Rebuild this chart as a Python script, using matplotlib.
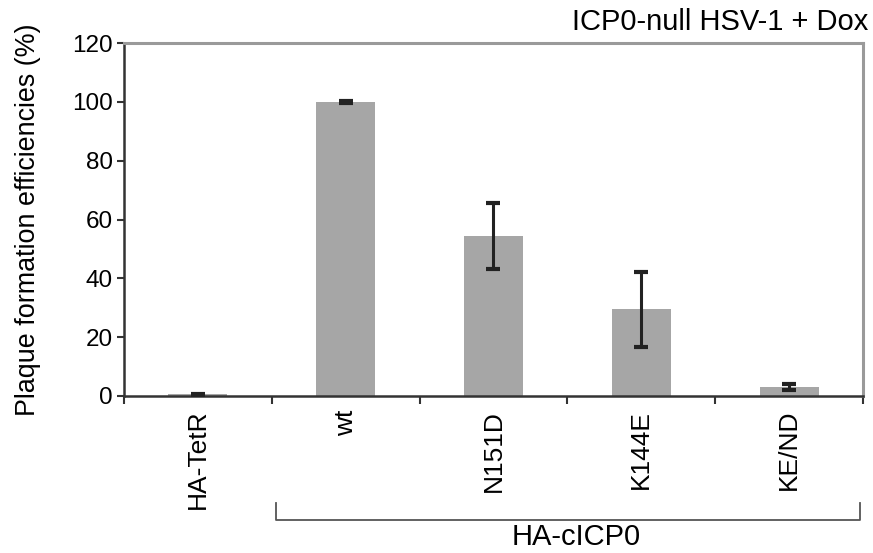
import matplotlib
matplotlib.use("Agg")
import matplotlib.pyplot as plt
import matplotlib.transforms as mtransforms
from matplotlib import font_manager
import numpy as np

categories = ["HA-TetR", "wt", "N151D", "K144E", "KE/ND"]
values = [0.5, 100.0, 54.5, 29.5, 3.0]
errors = [0.3, 0.4, 11.2, 12.8, 1.0]
yticks = [0, 20, 40, 60, 80, 100, 120]
group_label = "HA-cICP0"
title = "ICP0-null HSV-1 + Dox"
ylabel = "Plaque formation efficiencies (%)"

plt.rcParams['font.family'] = ['Liberation Sans', 'DejaVu Sans']

installed = {f.name for f in font_manager.fontManager.ttflist}
if "Liberation Sans Narrow" in installed:
    ylab_family, ylab_size = ["Liberation Sans Narrow", "DejaVu Sans"], 23.5
else:
    ylab_family, ylab_size = ["Liberation Sans", "DejaVu Sans"], 19.4

fig = plt.figure(figsize=(8.73, 5.53), dpi=100)
ax = fig.add_axes([0.142, 0.284, 0.8465, 0.638])

x = np.arange(len(categories))
ax.bar(x, values, width=0.4, color="#a6a6a6", zorder=2)
ax.errorbar(x, values, yerr=errors, fmt="none", ecolor="#222222",
            elinewidth=2.2, capsize=5, capthick=3, zorder=3)

ax.set_xlim(-0.5, len(categories) - 0.5)
ax.set_ylim(0, 120)
ax.set_yticks(yticks)
ax.set_yticklabels([str(t) for t in yticks], fontsize=17.5)
ax.set_xticks(x)
ax.set_xticklabels(categories, rotation=90, fontsize=19)
ax.set_xticks(np.arange(-0.5, len(categories), 1.0), minor=True)
ax.tick_params(axis="x", which="major", length=0, pad=10)
ax.tick_params(axis="x", which="minor", length=6, width=1.5, color="#333333", direction="out")
ax.tick_params(axis="y", length=5, width=1.5, color="#333333", direction="out", pad=3)

for side in ["left", "bottom"]:
    ax.spines[side].set_color("#333333")
    ax.spines[side].set_linewidth(1.8)
for side in ["top", "right"]:
    ax.spines[side].set_color("#9a9a9a")
    ax.spines[side].set_linewidth(2.2)

ax.set_ylabel(ylabel, fontsize=ylab_size, family=ylab_family)
ax.yaxis.set_label_coords(-0.112, 0.5)

fig.text(0.995, 0.96, title, ha="right", va="center", fontsize=21)

trans = mtransforms.blended_transform_factory(ax.transData, ax.transAxes)
bx0, bx1 = 0.53, 4.48
ax.plot([bx0, bx0, bx1, bx1], [-0.303, -0.351, -0.351, -0.303], transform=trans,
        color="#555555", lw=1.3, clip_on=False)
ax.text(2.56, -0.40, group_label, transform=trans, ha="center", va="center",
        fontsize=21)

fig.savefig("out.png", dpi=100)
